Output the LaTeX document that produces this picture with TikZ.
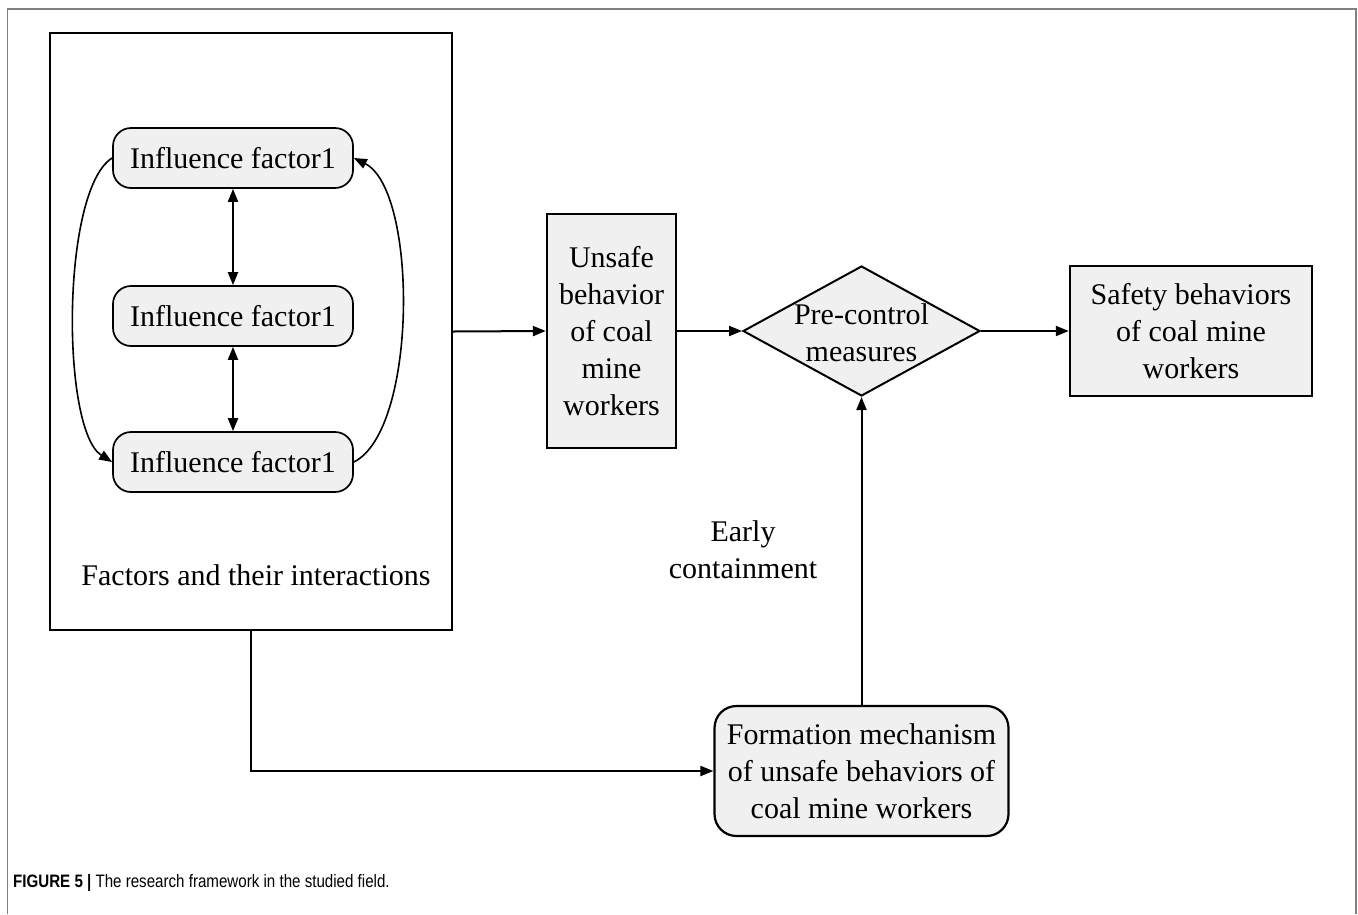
\documentclass[tikz,border=0pt]{standalone}
\usepackage{fontspec}
\setmainfont{Liberation Serif}
\newfontfamily\capfont[FakeStretch=0.84]{Liberation Sans}
\usetikzlibrary{arrows.meta,shapes.geometric}
\definecolor{boxgray}{HTML}{F0F0F0}
\definecolor{framegray}{HTML}{808080}
\tikzset{
  factor/.style={draw, line width=1.7pt, fill=boxgray, rounded corners=18pt,
    minimum width=240pt, minimum height=60pt, inner sep=0pt},
  rectbox/.style={draw, line width=2.4pt, fill=boxgray, align=center, inner sep=0pt},
  roundbox/.style={draw, line width=2.2pt, fill=boxgray, align=center, inner sep=0pt, rounded corners=22pt},
  conn/.style={line width=2pt, -{Triangle[length=13pt,width=10pt]}},
  dconn/.style={line width=2pt, {Triangle[length=13pt,width=10pt]}-{Triangle[length=13pt,width=10pt]}},
  curve/.style={line width=1.6pt, -{Triangle[length=13pt,width=10pt]}},
  plain/.style={align=center, inner sep=0pt}
}
\begin{document}
\begin{tikzpicture}[x=1pt,y=-1pt,font=\fontsize{30}{37}\selectfont]
\useasboundingbox (0,0) rectangle (1358,914);
\fill[white] (0,0) rectangle (1358,914);
\draw[framegray, line width=1.8pt] (7.5,914) -- (7.5,9) -- (1356,9) -- (1356,914);

\node[draw, line width=2.4pt, minimum width=402pt, minimum height=597pt, inner sep=0pt] (big) at (251,331.5) {};
\node[factor] (fac1) at (233,158) {Influence factor1};
\node[factor] (fac2) at (233,316) {Influence factor1};
\node[factor] (fac3) at (233,462) {Influence factor1};
\node[plain] (interact) at (256,575) {Factors and their interactions};

\node[rectbox, minimum width=129pt, minimum height=234pt] (unsafe) at (611.5,331) {Unsafe\\behavior\\of coal\\mine\\workers};
\node[diamond, draw, line width=2pt, fill=boxgray, minimum width=237pt, minimum height=130pt, inner sep=0pt] (pre) at (861.5,331) {};
\node[plain] (pretext) at (861.5,333) {Pre-control\\measures};
\node[rectbox, minimum width=242pt, minimum height=130pt] (safety) at (1191,331) {Safety behaviors\\of coal mine\\workers};
\node[roundbox, minimum width=294pt, minimum height=130pt] (form) at (861.5,771) {Formation mechanism\\of unsafe behaviors of\\coal mine workers};
\node[plain] (early) at (743,550) {Early\\containment};

\draw[conn] (big.east) -- (unsafe.west);
\draw[conn] (unsafe.east) -- (pre.west);
\draw[conn] (pre.east) -- (safety.west);
\draw[conn] (big.south) |- (form.west);
\draw[conn] (form.north) -- (pre.south);
\draw[dconn] (fac1.south) -- (fac2.north);
\draw[dconn] (fac2.south) -- (fac3.north);
\draw[curve] (fac1.west) .. controls (61,190) and (61,430) .. (fac3.west);
\draw[curve] (fac3.east) .. controls (418,430) and (418,190) .. (fac1.east);

\node[anchor=west, inner sep=0pt, font=\capfont\fontsize{18}{22}\selectfont] (cap) at (13,883) {\textbf{FIGURE 5 |} The research framework in the studied field.};
\end{tikzpicture}
\end{document}
